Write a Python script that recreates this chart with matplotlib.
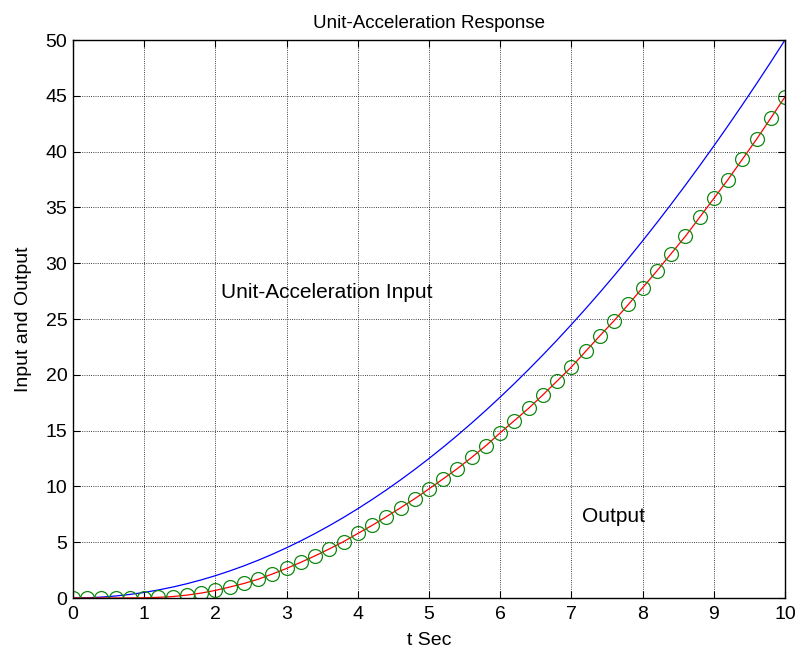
import matplotlib
matplotlib.use("Agg")
import matplotlib.pyplot as plt

plt.rcParams['font.family'] = ['Liberation Sans', 'DejaVu Sans']

# time samples, 0.2 s apart
t = [0.0, 0.2, 0.4, 0.6, 0.8, 1.0, 1.2, 1.4, 1.6, 1.8,
     2.0, 2.2, 2.4, 2.6, 2.8, 3.0, 3.2, 3.4, 3.6, 3.8,
     4.0, 4.2, 4.4, 4.6, 4.8, 5.0, 5.2, 5.4, 5.6, 5.8,
     6.0, 6.2, 6.4, 6.6, 6.8, 7.0, 7.2, 7.4, 7.6, 7.8,
     8.0, 8.2, 8.4, 8.6, 8.8, 9.0, 9.2, 9.4, 9.6, 9.8, 10.0]

# unit-acceleration input (blue)
u = [0.0, 0.02, 0.08, 0.18, 0.32, 0.5, 0.72, 0.98, 1.28, 1.62,
     2.0, 2.42, 2.88, 3.38, 3.92, 4.5, 5.12, 5.78, 6.48, 7.22,
     8.0, 8.82, 9.68, 10.58, 11.52, 12.5, 13.52, 14.58, 15.68, 16.82,
     18.0, 19.22, 20.48, 21.78, 23.12, 24.5, 25.92, 27.38, 28.88, 30.42,
     32.0, 33.62, 35.28, 36.98, 38.72, 40.5, 42.32, 44.18, 46.08, 48.02, 50.0]

# output (red line, green circles)
y = [0.0, 0.0, 0.0, 0.0, 0.01, 0.02, 0.06, 0.13, 0.26, 0.44,
     0.68, 0.98, 1.3, 1.68, 2.15, 2.65, 3.2, 3.78, 4.4, 5.05,
     5.78, 6.5, 7.28, 8.08, 8.9, 9.78, 10.68, 11.6, 12.6, 13.65,
     14.8, 15.9, 17.0, 18.2, 19.45, 20.7, 22.1, 23.5, 24.85, 26.3,
     27.8, 29.3, 30.85, 32.4, 34.1, 35.8, 37.5, 39.3, 41.1, 43.0, 44.9]

fig = plt.figure(figsize=(7.95, 6.57), dpi=100)
ax = fig.add_axes([0.0918, 0.0898, 0.8956, 0.8493])

ax.plot(t, u, color='blue', linewidth=0.9)
ax.plot(t, y, color='red', linewidth=0.9)
ax.plot(t, y, 'o', markerfacecolor='none', markeredgecolor='#118811',
        markersize=10, markeredgewidth=0.9)

ax.text(2.08, 27.4, 'Unit-Acceleration Input', fontsize=15, va='center')
ax.text(7.15, 7.3, 'Output', fontsize=15, va='center')

ax.set_xlim(0, 10)
ax.set_ylim(0, 50)
ax.set_xticks(range(0, 11))
ax.set_yticks(range(0, 51, 5))
ax.grid(True, color='black', linestyle=':', linewidth=0.6)
ax.tick_params(direction='in', top=True, right=True, length=5, labelsize=14)
ax.tick_params(axis='x', pad=6)
ax.tick_params(axis='y', pad=4)
for s in ax.spines.values():
    s.set_linewidth(1.0)

ax.set_title('Unit-Acceleration Response', fontsize=13.5, pad=9)
ax.set_xlabel('t Sec', fontsize=14, labelpad=6)
ax.set_ylabel('Input and Output', fontsize=14, labelpad=10)

fig.savefig('out.png', dpi=100)
